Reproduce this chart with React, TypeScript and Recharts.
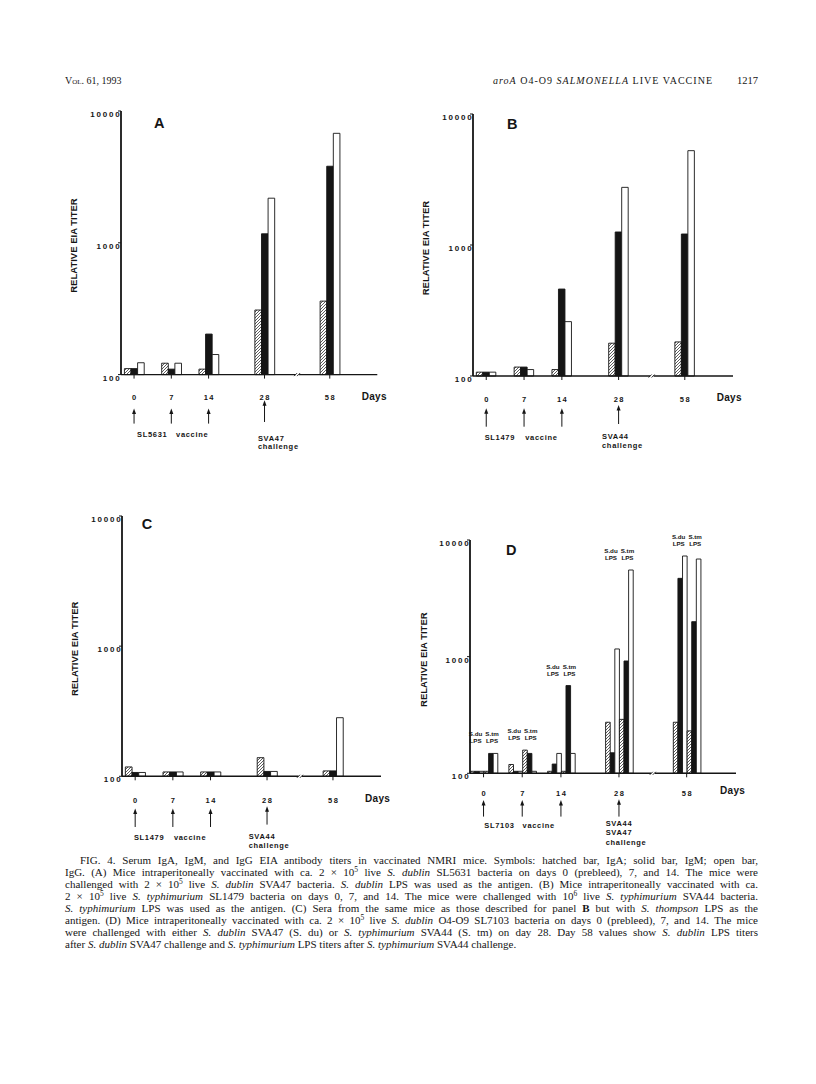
import React from 'react';
import { ComposedChart, Bar, Line, XAxis, YAxis, ReferenceDot } from 'recharts';

// ---------------- data ----------------
const days = ['0', '7', '14', '28', '58'];
// broken x axis: the axis is divided into equal slots, the sampled days sit in some of them
const axisSlots = ['', '0', '', '', '', '7', '', '', '', '14', '', '', '', '', '', '28', '', '', '', '', '', '', '58', '', '', '', '', ''];
const breakSlot = 18.6;
const yTicks = [100, 1000, 10000];
const arrowDays = ['0', '7', '14', '28'];

// Panel A (S. dublin LPS antigen)
const aIgA = [111, 122, 110, 309, 361];
const aIgM = [111, 110, 203, 1170, 3810];
const aIgG = [123, 122, 142, 2180, 6770];
// Panel B (S. typhimurium LPS antigen)
const bIgA = [107, 117, 112, 178, 182];
const bIgM = [107, 117, 461, 1257, 1213];
const bIgG = [107, 112, 260, 2755, 5250];
// Panel C (S. thompson LPS antigen)
const cIgA = [118, 108, 108, 139, 110];
const cIgM = [107, 108, 108, 109, 110];
const cIgG = [107, 108, 108, 109, 282];
// Panel D (S. du LPS / S. tm LPS)
const dDuIgA = [104, 119, 104, 274, 274];
const dDuIgM = [104, 104, 120, 150, 4690];
const dDuIgG = [104, 104, 148, 1164, 7290];
const dTmIgA = [104, 158, 104, 290, 231];
const dTmIgM = [148, 148, 565, 918, 1995];
const dTmIgG = [148, 104, 148, 5530, 6870];

const rowsABC = (iga: number[], igm: number[], igg: number[]) =>
  days.map((d, i) => ({ day: d, slot: axisSlots.indexOf(d), iga: iga[i], igm: igm[i], igg: igg[i] }));

const rowsA = rowsABC(aIgA, aIgM, aIgG);
const rowsB = rowsABC(bIgA, bIgM, bIgG);
const rowsC = rowsABC(cIgA, cIgM, cIgG);
const rowsD = days.map((d, i) => ({
  day: d,
  slot: axisSlots.indexOf(d),
  duIga: dDuIgA[i], duIgm: dDuIgM[i], duIgg: dDuIgG[i],
  tmIga: dTmIgA[i], tmIgm: dTmIgM[i], tmIgg: dTmIgG[i],
  lpsLevel: Math.max(dDuIgA[i], dDuIgM[i], dDuIgG[i], dTmIgA[i], dTmIgM[i], dTmIgG[i]),
}));

const seriesABC = [
  { key: 'iga', kind: 'hatch' },
  { key: 'igm', kind: 'solid' },
  { key: 'igg', kind: 'open' },
];
const seriesD = [
  { key: 'duIga', kind: 'hatch' },
  { key: 'duIgm', kind: 'solid' },
  { key: 'duIgg', kind: 'open' },
  { key: 'tmIga', kind: 'hatch' },
  { key: 'tmIgm', kind: 'solid' },
  { key: 'tmIgg', kind: 'open' },
];

// ---------------- styling / layout ----------------
const chartFont = '"Liberation Sans", Arial, Helvetica, sans-serif';
const serifFont = '"Liberation Serif", "Times New Roman", serif';
const INK = '#151515';

type Annot = {
  labelDy: number; arrow: number[]; arrow28: number[];
  strain: string; strainDx: number; vaccineDx: number; vaccineDy: number;
  challenge: string[]; chDx: number; chDy: number; chGap: number;
};
type PanelCfg = {
  id: string; letter: string; plot: { l: number; r: number; t: number; b: number };
  barSize: number; rows: any[]; series: { key: string; kind: string }[]; annot: Annot; lps?: boolean;
  letterPos: number[]; daysPos: number[];
};

const panels: PanelCfg[] = [
  {
    id: 'A', letter: 'A', plot: { l: 120.7, r: 377, t: 110.7, b: 374.3 }, barSize: 6.6, rows: rowsA, series: seriesABC,
    annot: { labelDy: 25, arrow: [34, 49], arrow28: [25.7, 47.4], strain: 'SL5631', strainDx: 3, vaccineDx: 42, vaccineDy: 62.4,
      challenge: ['SVA47', 'challenge'], chDx: -6.6, chDy: 66, chGap: 8 },
    letterPos: [154, 127.5], daysPos: [361.7, 399.5],
  },
  {
    id: 'B', letter: 'B', plot: { l: 472.7, r: 732.7, t: 114, b: 376 }, barSize: 6.5, rows: rowsB, series: seriesABC,
    annot: { labelDy: 26, arrow: [32.3, 50.7], arrow28: [29, 48], strain: 'SL1479', strainDx: -1.6, vaccineDx: 39, vaccineDy: 64,
      challenge: ['SVA44', 'challenge'], chDx: -16.6, chDy: 63.3, chGap: 8.7 },
    letterPos: [507, 129.3], daysPos: [716.7, 400.5],
  },
  {
    id: 'C', letter: 'C', plot: { l: 121.7, r: 380.7, t: 515.7, b: 776 }, barSize: 6.7, rows: rowsC, series: seriesABC,
    annot: { labelDy: 27, arrow: [32.3, 50.7], arrow28: [30, 48.3], strain: 'SL1479', strainDx: -1.3, vaccineDx: 38.7, vaccineDy: 63.3,
      challenge: ['SVA44', 'challenge'], chDx: -18.4, chDy: 62.3, chGap: 9.7 },
    letterPos: [141.7, 529.3], daysPos: [365, 801.5],
  },
  {
    id: 'D', letter: 'D', plot: { l: 470, r: 736, t: 540, b: 773.3 }, barSize: 4.6, rows: rowsD, series: seriesD, lps: true,
    annot: { labelDy: 22.7, arrow: [26.7, 43.3], arrow28: [26, 43.3], strain: 'SL7103', strainDx: 0.7, vaccineDx: 39, vaccineDy: 55,
      challenge: ['SVA44', 'SVA47', 'challenge'], chDx: -13.3, chDy: 52.7, chGap: 9.5 },
    letterPos: [506, 555], daysPos: [720, 793.5],
  },
];

// ---------------- custom pieces ----------------
function DayTick(props: any) {
  const { x, y, payload, annot } = props;
  const a: Annot = annot;
  const day = axisSlots[Math.round(payload.value)] || '';
  const ay = y - 4;
  const hasArrow = arrowDays.includes(day);
  const [t, b] = day === '28' ? a.arrow28 : a.arrow;
  return (
    <g fontFamily={chartFont} fontWeight="bold" fill={INK}>
      <text x={x + 0.75} y={ay + a.labelDy} textAnchor="middle" fontSize={7.5} letterSpacing={1.5} fill={INK}>{day}</text>
      {hasArrow && (
        <g>
          <line x1={x} x2={x} y1={ay + t + 4} y2={ay + b} stroke={INK} strokeWidth={1} />
          <path d={`M${x},${ay + t} l-2,5.5 l4,0 z`} fill={INK} />
        </g>
      )}
      {day === '0' && (
        <g fontSize={7.5} letterSpacing={0.7}>
          <text x={x + a.strainDx} y={ay + a.vaccineDy} fill={INK}>{a.strain}</text>
          <text x={x + a.vaccineDx} y={ay + a.vaccineDy} fill={INK}>vaccine</text>
        </g>
      )}
      {day === '28' && a.challenge.map((s, i) => (
        <text key={i} x={x + a.chDx} y={ay + a.chDy + i * a.chGap} fontSize={7.5} letterSpacing={0.7} fill={INK}>{s}</text>
      ))}
    </g>
  );
}

function YTick(props: any) {
  const { x, y, payload } = props;
  return (
    <text x={x + 3.5} y={y + 6} textAnchor="end" fontFamily={chartFont} fontWeight="bold" fontSize={8} letterSpacing={1.8} fill={INK}>
      {payload.value}
    </text>
  );
}

function LpsLabel(props: any) {
  const { x, y } = props;
  if (x == null || y == null) return null;
  return (
    <g fontFamily={chartFont} fontWeight="bold" fontSize={6.2} textAnchor="middle" fill={INK}>
      <text x={x - 8} y={y - 17}>S.du</text>
      <text x={x - 8} y={y - 10}>LPS</text>
      <text x={x + 8.5} y={y - 17}>S.tm</text>
      <text x={x + 8.5} y={y - 10}>LPS</text>
    </g>
  );
}

function BreakMark(props: any) {
  const { cx, cy } = props;
  if (cx == null || cy == null) return null;
  return (
    <g>
      <rect x={cx - 2.5} y={cy - 2} width={3.5} height={4} fill="#fff" />
      <path d={`M${cx - 4},${cy + 1.5} l3,-3 M${cx - 1},${cy + 1.5} l3,-3`} stroke={INK} strokeWidth={0.9} />
    </g>
  );
}

function Panel({ cfg }: { cfg: PanelCfg }) {
  const yW = 62, mTop = 14, mRight = 24, xH = 90;
  const { plot } = cfg;
  const left = plot.l - yW;
  const top = plot.t - mTop;
  const width = plot.r - left + mRight;
  const height = plot.b - top + xH;
  const hatchId = `hatch-${cfg.id}`;
  const fillOf = (kind: string) => (kind === 'hatch' ? `url(#${hatchId})` : kind === 'solid' ? INK : '#fff');
  const daySlots = days.map((d) => axisSlots.indexOf(d));
  return (
    <div style={{ position: 'absolute', left, top }}>
      <ComposedChart width={width} height={height} data={cfg.rows} margin={{ top: mTop, right: mRight, left: 0, bottom: 0 }} barGap={0} barCategoryGap={0}>
        <defs>
          <pattern id={hatchId} patternUnits="userSpaceOnUse" width={3} height={3}>
            <rect width={3} height={3} fill="#fff" />
            <path d="M-0.75,0.75 L0.75,-0.75 M0,3 L3,0 M2.25,3.75 L3.75,2.25" stroke={INK} strokeWidth={0.7} />
          </pattern>
        </defs>
        <XAxis
          type="number"
          dataKey="slot"
          domain={[-0.4, 27.1]}
          ticks={daySlots}
          interval={0}
          height={xH}
          tickSize={4}
          tickMargin={0}
          tickLine={{ stroke: INK, strokeWidth: 1 }}
          axisLine={{ stroke: INK, strokeWidth: 1.4 }}
          tick={(p: any) => <DayTick {...p} annot={cfg.annot} />}
        />
        <YAxis
          scale="log"
          type="number"
          domain={[100, 10000]}
          ticks={yTicks}
          interval={0}
          width={yW}
          tickSize={3}
          tickMargin={0}
          tickLine={{ stroke: INK, strokeWidth: 1 }}
          axisLine={{ stroke: INK, strokeWidth: 1.8 }}
          tick={(p: any) => <YTick {...p} />}
        />
        {cfg.series.map((s) => (
          <Bar
            key={s.key}
            dataKey={s.key}
            barSize={cfg.barSize}
            fill={fillOf(s.kind)}
            stroke={INK}
            strokeWidth={0.9}
            isAnimationActive={false}
          />
        ))}
        {cfg.lps && (
          <Line
            dataKey="lpsLevel"
            stroke="none"
            dot={false}
            activeDot={false}
            isAnimationActive={false}
            label={(p: any) => <LpsLabel {...p} />}
          />
        )}
        <ReferenceDot x={breakSlot} y={100} r={0} ifOverflow="visible" shape={(p: any) => <BreakMark {...p} />} />
      </ComposedChart>
    </div>
  );
}

// ---------------- caption ----------------
const I = ({ children }: { children: React.ReactNode }) => <i>{children}</i>;
const Sup = ({ children }: { children: React.ReactNode }) => (
  <sup style={{ fontSize: 7.5, lineHeight: 0, verticalAlign: '4px' }}>{children}</sup>
);

const captionLines: React.ReactNode[] = [
  <>FIG. 4. Serum IgA, IgM, and IgG EIA antibody titers in vaccinated NMRI mice. Symbols: hatched bar, IgA; solid bar, IgM; open bar,</>,
  <>IgG. (A) Mice intraperitoneally vaccinated with ca. 2 × 10<Sup>5</Sup> live <I>S. dublin</I> SL5631 bacteria on days 0 (prebleed), 7, and 14. The mice were</>,
  <>challenged with 2 × 10<Sup>5</Sup> live <I>S. dublin</I> SVA47 bacteria. <I>S. dublin</I> LPS was used as the antigen. (B) Mice intraperitoneally vaccinated with ca.</>,
  <>2 × 10<Sup>5</Sup> live <I>S. typhimurium</I> SL1479 bacteria on days 0, 7, and 14. The mice were challenged with 10<Sup>6</Sup> live <I>S. typhimurium</I> SVA44 bacteria.</>,
  <><I>S. typhimurium</I> LPS was used as the antigen. (C) Sera from the same mice as those described for panel <b>B</b> but with <I>S. thompson</I> LPS as the</>,
  <>antigen. (D) Mice intraperitoneally vaccinated with ca. 2 × 10<Sup>5</Sup> live <I>S. dublin</I> O4-O9 SL7103 bacteria on days 0 (prebleed), 7, and 14. The mice</>,
  <>were challenged with either <I>S. dublin</I> SVA47 (S. du) or <I>S. typhimurium</I> SVA44 (S. tm) on day 28. Day 58 values show <I>S. dublin</I> LPS titers</>,
  <>after <I>S. dublin</I> SVA47 challenge and <I>S. typhimurium</I> LPS titers after <I>S. typhimurium</I> SVA44 challenge.</>,
];

export default function App() {
  return (
    <div style={{ position: 'absolute', left: 0, top: 0, width: 816, height: 1084, background: '#fff', overflow: 'hidden' }}>
      {panels.map((p) => (
        <Panel key={p.id} cfg={p} />
      ))}
      <svg width={816} height={1084} style={{ position: 'absolute', left: 0, top: 0, pointerEvents: 'none' }}>
        {/* running header */}
        <text x={65} y={83.5} fontFamily={serifFont} fontSize={10} fill={INK} style={{ fontVariant: 'small-caps' }}>Vol. 61, 1993</text>
        <text x={493} y={83.5} fontFamily={serifFont} fontSize={10} fill={INK} textLength={219} lengthAdjust="spacing">
          <tspan fontStyle="italic">aroA</tspan> O4-O9 <tspan fontStyle="italic">SALMONELLA</tspan> LIVE VACCINE
        </text>
        <text x={758} y={83.5} fontFamily={serifFont} fontSize={10.5} fill={INK} textAnchor="end">1217</text>
        {panels.map((p) => (
          <g key={p.id} fontFamily={chartFont} fontWeight="bold" fill={INK}>
            <text x={p.letterPos[0]} y={p.letterPos[1]} fontSize={14.5}>{p.letter}</text>
            <text x={p.daysPos[0]} y={p.daysPos[1]} fontSize={10} letterSpacing={0.3}>Days</text>
            <text
              x={p.plot.l - 43.3}
              y={(p.plot.t + p.plot.b) / 2 + 3}
              transform={`rotate(-90 ${p.plot.l - 43.3} ${(p.plot.t + p.plot.b) / 2 + 3})`}
              textAnchor="middle"
              fontSize={9.5}
            >
              RELATIVE EIA TITER
            </text>
          </g>
        ))}
      </svg>
      {captionLines.map((line, i) => {
        const first = i === 0;
        const last = i === captionLines.length - 1;
        return (
          <div
            key={i}
            style={{
              position: 'absolute',
              left: first ? 80 : 65,
              top: 861 + i * 12 - 7,
              width: first ? 678 : 693,
              height: 12,
              lineHeight: '13px',
              whiteSpace: 'nowrap',
              fontFamily: serifFont,
              fontSize: 11,
              color: INK,
              textAlign: last ? 'left' : 'justify',
              textAlignLast: last ? 'left' : 'justify',
            }}
          >
            {line}
          </div>
        );
      })}
    </div>
  );
}
